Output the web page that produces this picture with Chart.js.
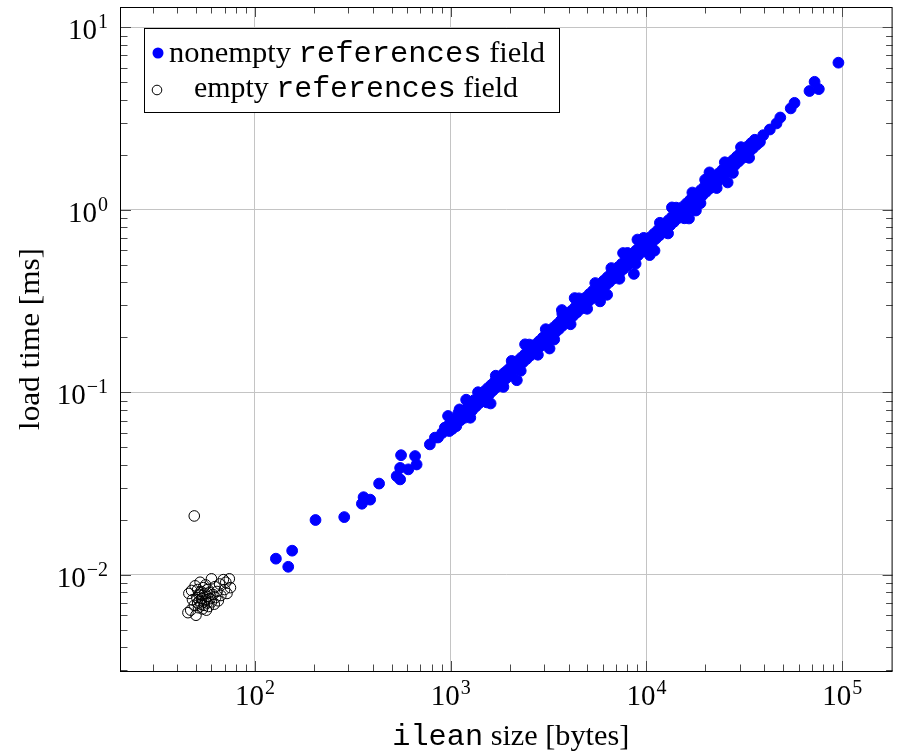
<!DOCTYPE html>
<html>
<head>
<meta charset="utf-8">
<script src="https://cdn.jsdelivr.net/npm/chart.js@4.4.0/dist/chart.umd.min.js"></script>
<style>
html, body { margin: 0; padding: 0; background: #fff; }
#wrap { width: 899px; height: 753px; }
</style>
</head>
<body>
<div id="wrap"><canvas id="loadChart" width="899" height="753"></canvas></div>
<script>
// axis ranges (log scale) and labelled decades
const xLimits = [20.7, 181000];
const yLimits = [0.00297, 12.9];
const xMajorExps = [2, 3, 4, 5];
const yMajorExps = [-2, -1, 0, 1];
const seriesLabels = ['nonempty', 'empty'];

// [ilean size (bytes), load time (ms)]
const nonemptyPoints = [
  [128, 0.01225], [148, 0.01106], [155, 0.01355], [204, 0.01995], [286, 0.0207],
  [352, 0.0245], [359, 0.0266], [388, 0.0258], [431, 0.0316], [530, 0.0347],
  [552, 0.0333], [552, 0.0385], [558, 0.0452], [608, 0.0378], [658, 0.0447],
  [670, 0.0402], [783, 0.0518], [831, 0.0564], [862, 0.0565], [905, 0.0598],
  [934, 0.064], [948, 0.0642], [955, 0.0618], [970, 0.0741], [985, 0.0613],
  [990, 0.0672], [1002, 0.0694], [1015, 0.0658], [1020, 0.063],
  [1040, 0.0705], [1068, 0.0652], [1095, 0.0768], [1110, 0.0805], [1120, 0.0701],
  [1150, 0.0788], [1178, 0.0725], [1200, 0.091], [1205, 0.0812], [1230, 0.077],
  [1260, 0.0725], [1262, 0.0864], [1290, 0.0798], [1318, 0.0905], [1345, 0.0836],
  [1372, 0.0921], [1380, 0.1], [1400, 0.0872], [1428, 0.0968], [1455, 0.0905],
  [1487, 0.1012], [1515, 0.0941], [1530, 0.088], [1546, 0.1052], [1578, 0.0978],
  [1600, 0.0868], [1610, 0.1094], [1642, 0.1021], [1675, 0.1138], [1700, 0.1232],
  [1708, 0.1062], [1740, 0.1185], [1772, 0.1098], [1805, 0.1226], [1840, 0.1143],
  [1860, 0.107], [1878, 0.1275], [1915, 0.1188], [1950, 0.1318], [1990, 0.1232],
  [2030, 0.1374], [2050, 0.1485], [2070, 0.1296], [2115, 0.1428], [2160, 0.1342],
  [2178, 0.1164], [2205, 0.1486], [2250, 0.1395], [2280, 0.1311], [2298, 0.1548],
  [2345, 0.1462], [2395, 0.1612], [2400, 0.183], [2445, 0.1521], [2498, 0.1685],
  [2520, 0.1825], [2550, 0.1588], [2605, 0.1752], [2660, 0.1655], [2718, 0.183],
  [2775, 0.1724], [2790, 0.1605], [2835, 0.1905], [2895, 0.1798], [2958, 0.1992],
  [3020, 0.1876], [3060, 0.2215], [3085, 0.2078], [3150, 0.1958], [3200, 0.1736],
  [3218, 0.2165], [3285, 0.204], [3355, 0.2262], [3380, 0.1945], [3428, 0.2128],
  [3500, 0.2355], [3575, 0.2218], [3650, 0.2462], [3700, 0.282], [3720, 0.269],
  [3728, 0.2315], [3808, 0.2565], [3890, 0.2415], [3972, 0.268], [4058, 0.252],
  [4100, 0.2358], [4145, 0.2795], [4232, 0.2628], [4300, 0.328], [4322, 0.2915],
  [4415, 0.274], [4510, 0.3042], [4520, 0.327], [4605, 0.2858], [4705, 0.3172],
  [4805, 0.2985], [4908, 0.331], [4980, 0.2865], [5012, 0.3112], [5120, 0.3455],
  [5228, 0.3245], [5340, 0.3602], [5455, 0.3388], [5480, 0.3965], [5570, 0.376],
  [5690, 0.3532], [5800, 0.3147], [5812, 0.3925], [5935, 0.3685], [6020, 0.346],
  [6062, 0.4092], [6190, 0.3845], [6300, 0.342], [6322, 0.4268], [6458, 0.401],
  [6595, 0.4452], [6620, 0.479], [6735, 0.4182], [6880, 0.4645], [7025, 0.4362],
  [7175, 0.4845], [7280, 0.4185], [7328, 0.455], [7485, 0.5052], [7600, 0.579],
  [7645, 0.4745], [7810, 0.561], [7980, 0.495], [8010, 0.5795], [8150, 0.5505],
  [8325, 0.5168], [8500, 0.574], [8630, 0.445], [8680, 0.5385], [8810, 0.5065],
  [8865, 0.5985], [9000, 0.686], [9055, 0.562], [9250, 0.6245], [9445, 0.5862],
  [9645, 0.6512], [9690, 0.701], [9850, 0.6115], [10060, 0.679], [10275, 0.638],
  [10400, 0.5643], [10495, 0.7085], [10660, 0.613], [10720, 0.6655], [10950, 0.7392],
  [11000, 0.597], [11180, 0.6942], [11420, 0.7712], [11665, 0.724], [11720, 0.848],
  [11915, 0.8045], [12170, 0.7555], [12430, 0.8392], [12695, 0.788], [12900, 0.7415],
  [12965, 0.8755], [13240, 0.822], [13500, 1.029], [13525, 0.9132], [13815, 0.8575],
  [14110, 0.9528], [14190, 1.0265], [14410, 0.8945], [14720, 0.994], [15035, 0.9332],
  [15355, 1.0368], [15610, 0.8975], [15685, 0.9735], [16020, 1.0815], [16360, 1.0155],
  [16500, 0.8954], [16710, 1.1282], [17070, 1.0595], [17170, 1.242], [17435, 1.177],
  [17810, 1.1055], [17900, 0.99], [18190, 1.228], [18580, 1.1532], [18890, 1.086],
  [18975, 1.281], [19380, 1.203], [19795, 1.3365], [19950, 1.46], [20220, 1.255],
  [20650, 1.394], [20780, 1.5035], [21000, 1.601], [21095, 1.3095], [21545, 1.4545],
  [22005, 1.3658], [22475, 1.5172], [22860, 1.3145], [22955, 1.425], [23450, 1.583],
  [23950, 1.4865], [24460, 1.6512], [24985, 1.5508], [25150, 1.8195], [25520, 1.7228],
  [26000, 1.411], [26065, 1.6178], [26620, 1.797], [27190, 1.6878], [27660, 1.5905],
  [27770, 1.8746], [28365, 1.7605], [28970, 1.9556], [29590, 1.8368], [30220, 2.04],
  [30430, 2.2015], [30870, 1.916], [31530, 2.1285], [32200, 1.9985], [32890, 2.2205],
  [33470, 1.9245], [33595, 2.085], [34315, 2.3165], [35050, 2.1755], [35800, 2.4165],
  [36565, 2.2695], [38000, 2.35], [39500, 2.56], [42700, 2.75], [46200, 2.97],
  [48300, 3.2], [54600, 3.59], [57100, 3.85], [68100, 4.47], [72300, 5.02],
  [76000, 4.58], [95700, 6.39]
];

const emptyPoints = [
  [45.5, 0.0062], [47, 0.0064], [46, 0.0079], [47.5, 0.0082], [48, 0.0073],
  [49, 0.0068], [49.5, 0.0087], [50, 0.006], [50.5, 0.0075], [51, 0.007],
  [51, 0.0083], [51.5, 0.0066], [52, 0.0078], [52, 0.0072], [52.5, 0.0091],
  [53, 0.0069], [53, 0.0081], [53.5, 0.0074], [54, 0.0065], [54, 0.0077],
  [54.5, 0.0085], [55, 0.0071], [55, 0.0068], [55.5, 0.0079], [56, 0.0073],
  [56, 0.0088], [56.5, 0.0064], [57, 0.0076], [57, 0.007], [57.5, 0.0083],
  [58, 0.0067], [58.5, 0.008], [59, 0.0074], [60, 0.0095], [60, 0.0071],
  [61, 0.0078], [62, 0.0069], [62.5, 0.0086], [63, 0.0075], [64, 0.0081],
  [65, 0.0072], [66, 0.0089], [67, 0.0077], [69, 0.0094], [70, 0.0083],
  [71, 0.0091], [72, 0.0079], [74, 0.0095], [75, 0.0085], [49, 0.021]
];

const SERIF = '"Liberation Serif", "DejaVu Serif", serif';
const MONO = '"Liberation Mono", "DejaVu Sans Mono", monospace';
const FS = 29;

function isPow10(v) {
  const l = Math.log10(v);
  return Math.abs(l - Math.round(l)) < 1e-9;
}

// 1..9 x 10^n within the limits, used for grid and tick marks
function logTicks(min, max) {
  const out = [];
  for (let e = Math.floor(Math.log10(min)); e <= Math.ceil(Math.log10(max)); e++) {
    for (let m = 1; m <= 9; m++) {
      const v = m * Math.pow(10, e);
      if (v >= min && v <= max) out.push({ value: v });
    }
  }
  return out;
}

// text made of runs [string, font], optionally stretched to a target width
function drawRuns(ctx, runs, x, y, align, target) {
  let w = 0;
  runs.forEach(r => { ctx.font = r[1]; w += ctx.measureText(r[0]).width; });
  const sx = target ? target / w : 1;
  const total = w * sx;
  let start = align === 'center' ? x - total / 2 : (align === 'right' ? x - total : x);
  ctx.save();
  ctx.translate(start, y);
  ctx.scale(sx, 1);
  ctx.textAlign = 'left';
  ctx.textBaseline = 'alphabetic';
  let cx = 0;
  runs.forEach(r => {
    ctx.font = r[1];
    ctx.fillText(r[0], cx, 0);
    cx += ctx.measureText(r[0]).width;
  });
  ctx.restore();
}

function drawPow(ctx, exp, x, y, align) {
  const base = FS + 'px ' + SERIF;
  const sup = Math.round(FS * 0.7) + 'px ' + SERIF;
  const expStr = exp < 0 ? '\u2212' + (-exp) : String(exp);
  ctx.font = base; const w1 = ctx.measureText('10').width;
  ctx.font = sup; const w2 = ctx.measureText(expStr).width;
  const total = w1 + w2 + 1;
  let sx = align === 'center' ? x - total / 2 : x - total;
  ctx.textAlign = 'left';
  ctx.textBaseline = 'alphabetic';
  ctx.font = base; ctx.fillText('10', sx, y);
  ctx.font = sup; ctx.fillText(expStr, sx + w1 + 1, y - 11);
}

const pgfAxis = {
  id: 'pgfAxis',
  afterDraw(chart) {
    const { ctx, chartArea: a, scales: { x, y } } = chart;
    ctx.save();
    ctx.lineWidth = 1;
    ctx.strokeStyle = '#4a4a4a';
    ctx.beginPath();
    x.ticks.forEach(t => {
      const px = Math.round(x.getPixelForValue(t.value)) + 0.5;
      const len = isPow10(t.value) ? 10 : 6.5;
      ctx.moveTo(px, a.bottom); ctx.lineTo(px, a.bottom - len);
      ctx.moveTo(px, a.top); ctx.lineTo(px, a.top + len);
    });
    y.ticks.forEach(t => {
      const py = Math.round(y.getPixelForValue(t.value)) + 0.5;
      const len = isPow10(t.value) ? 10 : 6.5;
      ctx.moveTo(a.left, py); ctx.lineTo(a.left + len, py);
      ctx.moveTo(a.right, py); ctx.lineTo(a.right - len, py);
    });
    ctx.stroke();

    ctx.strokeStyle = '#000';
    ctx.strokeRect(a.left - 0.5, a.top + 0.5, a.right - a.left, a.bottom - a.top);

    ctx.fillStyle = '#000';
    xMajorExps.forEach(e => {
      drawPow(ctx, e, x.getPixelForValue(Math.pow(10, e)), a.bottom + 34, 'center');
    });
    yMajorExps.forEach(e => {
      drawPow(ctx, e, a.left - 13, y.getPixelForValue(Math.pow(10, e)) + 12, 'right');
    });

    // axis titles
    const serif = FS + 'px ' + SERIF;
    const mono = FS + 'px ' + MONO;
    drawRuns(ctx, [['ilean', mono], [' size [bytes]', serif]], (a.left + a.right) / 2 + 4, 745, 'center', 237);
    ctx.save();
    ctx.translate(39, (a.top + a.bottom) / 2);
    ctx.rotate(-Math.PI / 2);
    drawRuns(ctx, [['load time [ms]', serif]], 0, 0, 'center', 182);
    ctx.restore();

    // legend
    const lx = 144.5, ly = 28.5, lw = 415, lh = 84;
    ctx.fillStyle = '#fff';
    ctx.fillRect(lx, ly, lw, lh);
    ctx.strokeStyle = '#000';
    ctx.strokeRect(lx, ly, lw, lh);
    ctx.fillStyle = '#0000ff';
    ctx.beginPath(); ctx.arc(158, 53, 5.5, 0, Math.PI * 2); ctx.fill();
    ctx.strokeStyle = '#000';
    ctx.beginPath(); ctx.arc(157, 90, 4.8, 0, Math.PI * 2); ctx.stroke();
    ctx.fillStyle = '#000';
    drawRuns(ctx, [[seriesLabels[0] + ' ', serif], ['references', mono], [' field', serif]], 357, 62, 'center', 376);
    drawRuns(ctx, [[seriesLabels[1] + ' ', serif], ['references', mono], [' field', serif]], 356, 97, 'center', 324);
    ctx.restore();
  }
};

function logScale(limits) {
  return {
    type: 'logarithmic',
    min: limits[0],
    max: limits[1],
    afterBuildTicks: s => { s.ticks = logTicks(limits[0], limits[1]); },
    ticks: { display: false },
    border: { display: false },
    grid: {
      drawTicks: false,
      lineWidth: 1,
      color: c => (c.tick && isPow10(c.tick.value)) ? '#c4c4c4' : 'rgba(0,0,0,0)'
    }
  };
}

const xScale = logScale(xLimits);
xScale.afterFit = s => { s.height = 82; };
const yScale = logScale(yLimits);
yScale.afterFit = s => { s.width = 121; };

new Chart(document.getElementById('loadChart'), {
  type: 'scatter',
  data: {
    datasets: [{
      label: 'nonempty references field',
      data: nonemptyPoints.map(p => ({ x: p[0], y: p[1] })),
      backgroundColor: '#0000ff',
      borderColor: '#0000ff',
      borderWidth: 1,
      pointRadius: 5.4
    }, {
      label: 'empty references field',
      data: emptyPoints.map(p => ({ x: p[0], y: p[1] })),
      backgroundColor: 'rgba(0,0,0,0)',
      borderColor: '#000',
      borderWidth: 1,
      pointRadius: 5.3
    }]
  },
  options: {
    responsive: false,
    animation: false,
    layout: { padding: { top: 7, right: 2, left: 0, bottom: 0 } },
    plugins: { legend: { display: false }, tooltip: { enabled: false } },
    scales: { x: xScale, y: yScale }
  },
  plugins: [pgfAxis]
});
</script>
</body>
</html>
